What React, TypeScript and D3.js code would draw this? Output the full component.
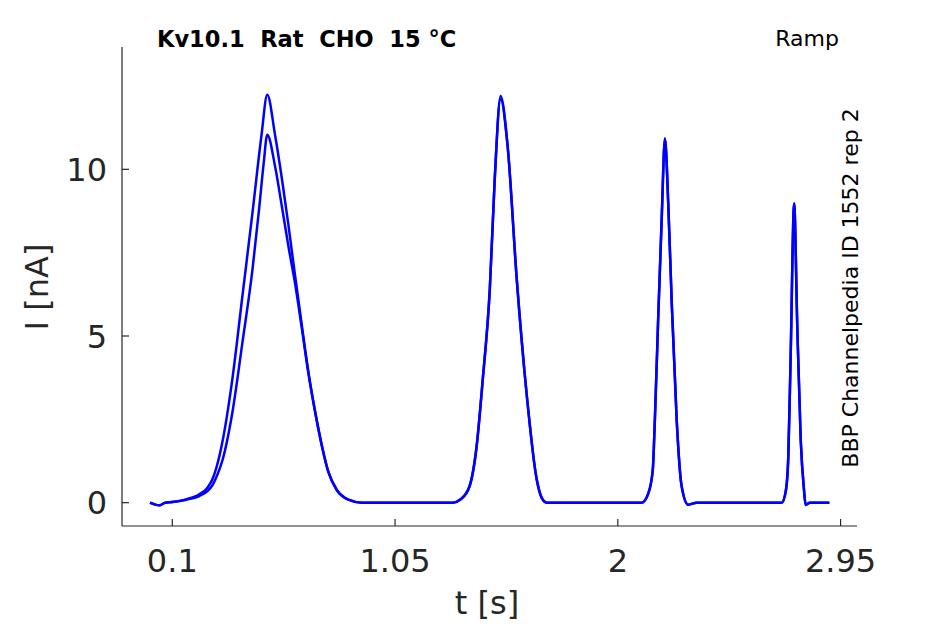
import { useEffect } from 'react'
import * as d3 from 'd3'

// ramp response, two sweeps (s, nA)
const timeA = [
  0.005, 0.044, 0.07, 0.1, 0.16, 0.215, 0.25, 0.271, 0.29, 0.313, 0.356, 0.399, 0.442, 0.48, 0.505,
  0.538, 0.567, 0.595, 0.623, 0.652, 0.68, 0.709, 0.737, 0.765, 0.801, 0.851, 0.908,
  1.0, 1.15, 1.296, 1.33, 1.368, 1.398, 1.424, 1.454, 1.475, 1.5, 1.53, 1.569, 1.612, 1.654, 1.675, 1.697,
  1.8, 1.95, 2.102, 2.13, 2.149, 2.158, 2.172, 2.187, 2.201, 2.215, 2.23, 2.251, 2.272, 2.3, 2.336,
  2.45, 2.58, 2.699, 2.717, 2.727, 2.737, 2.752, 2.765, 2.78, 2.794, 2.801, 2.819, 2.86, 2.902,
]
const currentA = [
  0, -0.08, 0, 0.02, 0.1, 0.25, 0.45, 0.7, 1.1, 1.8, 3.7, 6.2, 8.7, 11.0, 12.24,
  11.04, 9.74, 8.34, 6.84, 5.34, 3.94, 2.74, 1.74, 0.94, 0.39, 0.09, 0,
  0, 0, 0, 0.1, 0.5, 1.7, 3.7, 6.4, 9.7, 12.2, 10.7, 6.7, 3.2, 0.7, 0.15, 0,
  0, 0, 0, 0.28, 0.98, 2.5, 5.5, 8.5, 10.93, 8.98, 5.98, 2.48, 0.5, -0.06, 0,
  0, 0, 0, 0.38, 1.38, 4.38, 8.98, 5.38, 1.88, 0.38, -0.07, 0, 0, 0,
]

const timeB = [
  0.005, 0.044, 0.07, 0.1, 0.16, 0.215, 0.25, 0.271, 0.29, 0.313, 0.356, 0.399, 0.442, 0.47, 0.49, 0.505,
  0.538, 0.567, 0.595, 0.623, 0.652, 0.68, 0.709, 0.737, 0.765, 0.801, 0.851, 0.908,
  1.0, 1.15, 1.296, 1.33, 1.368, 1.398, 1.424, 1.454, 1.475, 1.5, 1.53, 1.569, 1.612, 1.654, 1.675, 1.697,
  1.8, 1.95, 2.102, 2.13, 2.149, 2.158, 2.172, 2.187, 2.201, 2.215, 2.23, 2.251, 2.272, 2.3, 2.336,
  2.45, 2.58, 2.699, 2.717, 2.727, 2.737, 2.752, 2.765, 2.78, 2.794, 2.801, 2.819, 2.86, 2.902,
]
const currentB = [
  0, -0.08, 0, 0.02, 0.09, 0.2, 0.35, 0.52, 0.8, 1.25, 2.7, 4.8, 7.0, 8.8, 10.2, 11.04,
  10.1, 8.9, 7.7, 6.6, 5.25, 3.9, 2.72, 1.73, 0.93, 0.38, 0.09, 0,
  0, 0, 0, 0.1, 0.5, 1.7, 3.7, 6.4, 9.7, 12.1, 10.7, 6.7, 3.2, 0.7, 0.15, 0,
  0, 0, 0, 0.28, 0.98, 2.5, 5.5, 8.5, 10.9, 8.98, 5.98, 2.48, 0.5, -0.06, 0,
  0, 0, 0, 0.38, 1.38, 4.38, 8.95, 5.38, 1.88, 0.38, -0.07, 0, 0, 0,
]

const xTicks = [0.1, 1.05, 2, 2.95]
const yTicks = [0, 5, 10]

const title = 'Kv10.1  Rat  CHO  15 °C'
const protocol = 'Ramp'
const sideNote = 'BBP Channelpedia ID 1552 rep 2'

const W = 945
const H = 624
const plot = { left: 122, right: 857, top: 47, bottom: 526 }
const axisColor = '#262626'
const font = '"DejaVu Sans", sans-serif'

export default function App() {
  useEffect(() => { document.body.style.margin = '0' }, [])

  const x = d3.scaleLinear().domain([-0.1145, 3.02]).range([plot.left, plot.right])
  const y = d3.scaleLinear().domain([-0.7, 13.67]).range([plot.bottom, plot.top])

  const line = d3.line<[number, number]>()
    .x(d => x(d[0]))
    .y(d => y(d[1]))
    .curve(d3.curveMonotoneX)

  const sweeps = [
    d3.zip(timeA, currentA) as [number, number][],
    d3.zip(timeB, currentB) as [number, number][],
  ]

  return (
    <svg width={W} height={H} style={{ display: 'block', background: '#fff' }} fontFamily={font}>
      {sweeps.map((s, i) => (
        <path key={i} d={line(s) ?? ''} fill="none" stroke="#0000ff" strokeWidth={2.5} strokeLinejoin="round" />
      ))}

      {/* axes */}
      <line x1={plot.left} x2={plot.right} y1={plot.bottom} y2={plot.bottom} stroke={axisColor} strokeWidth={1.2} />
      <line x1={plot.left} x2={plot.left} y1={plot.top} y2={plot.bottom} stroke={axisColor} strokeWidth={1.2} />

      {xTicks.map(t => (
        <g key={t} transform={`translate(${x(t)},0)`}>
          <line y1={plot.bottom} y2={plot.bottom - 7} stroke={axisColor} strokeWidth={1.2} />
          <text y={572} textAnchor="middle" fontSize={32} fill={axisColor}>{t}</text>
        </g>
      ))}
      {yTicks.map(v => (
        <g key={v} transform={`translate(0,${y(v)})`}>
          <line x1={plot.left} x2={plot.left + 7} stroke={axisColor} strokeWidth={1.2} />
          <text x={107} dy="0.36em" textAnchor="end" fontSize={32} fill={axisColor}>{v}</text>
        </g>
      ))}

      <text x={487} y={614} textAnchor="middle" fontSize={32} fill={axisColor}>t [s]</text>
      <text transform="translate(48,287) rotate(-90)" textAnchor="middle" fontSize={32} fill={axisColor}>I [nA]</text>

      <text x={157} y={47} fontSize={22.5} fontWeight="bold" fill="#000" style={{ whiteSpace: 'pre' }}>{title}</text>
      <text x={839} y={46} textAnchor="end" fontSize={22} fill="#000">{protocol}</text>
      <text transform="translate(858,288) rotate(-90)" textAnchor="middle" fontSize={22} fill="#000">{sideNote}</text>
    </svg>
  )
}
